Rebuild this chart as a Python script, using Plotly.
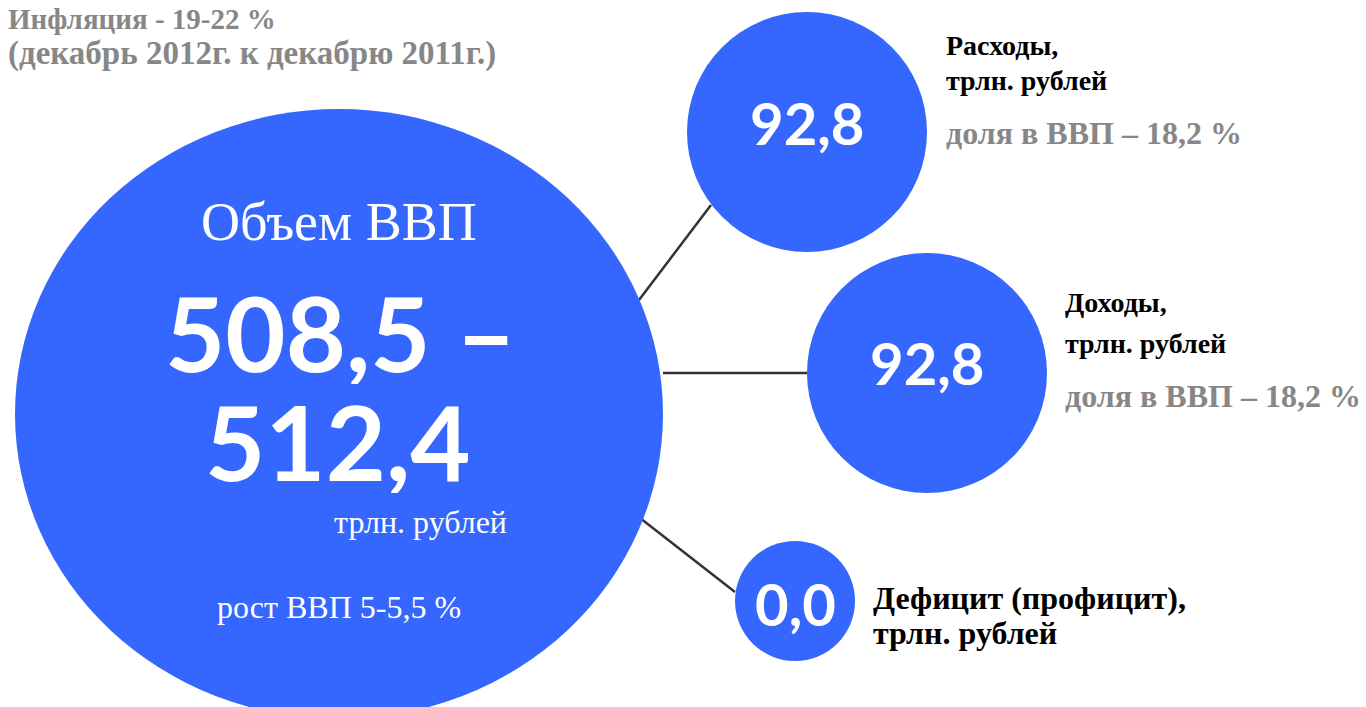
import plotly.graph_objects as go

# ---------------- data ----------------
gdp_title = "Объем ВВП"
gdp_range = [508.5, 512.4]
gdp_unit = "трлн. рублей"
gdp_growth = "рост ВВП 5-5,5 %"
inflation_lines = ["Инфляция - 19-22 %", "(декабрь 2012г. к декабрю 2011г.)"]
item_names = ["Расходы,", "Доходы,", "Дефицит (профицит),"]
item_values = [92.8, 92.8, 0.0]
item_shares = [18.2, 18.2, None]
unit = "трлн. рублей"

# ---------------- layout geometry (page pixels) ----------------
W, H = 1366, 707
BLUE = "#3567FE"
GRAY = "#878787"
big = dict(cx=339, cy=414, rx=324, ry=305)
small_c = [(807, 132), (927, 373), (795, 601)]
small_r = [120, 120, 60]
value_y = [122, 362, 603]
links = [((639, 300), (711, 205)), ((663, 373), (807, 373)), ((640, 518), (735, 592))]
label_x = [945, 1064, 872]
label_y = [[45, 80, 133], [302, 343, 396], [598, 633, None]]
label_size = [28, 28, 32]

SERIF = "Liberation Serif, Times New Roman, serif"
SANS = "Lato, Open Sans, sans-serif"


def fmt(v):
    return f"{v:.1f}".replace(".", ",")


shapes = []
annotations = []

# connecting lines
for (x0, y0), (x1, y1) in links:
    shapes.append(dict(type="line", xref="x", yref="y", x0=x0, y0=y0, x1=x1, y1=y1,
                       line=dict(color="#333333", width=2.5), layer="below"))

# big ellipse
shapes.append(dict(type="circle", xref="x", yref="y",
                   x0=big["cx"] - big["rx"], x1=big["cx"] + big["rx"],
                   y0=big["cy"] - big["ry"], y1=big["cy"] + big["ry"],
                   fillcolor=BLUE, line=dict(width=0), layer="below"))

# small circles
for (cx, cy), r, v, vy in zip(small_c, small_r, item_values, value_y):
    shapes.append(dict(type="circle", xref="x", yref="y",
                       x0=cx - r, x1=cx + r, y0=cy - r, y1=cy + r,
                       fillcolor=BLUE, line=dict(width=0), layer="below"))
    annotations.append(dict(x=cx, y=vy, xref="x", yref="y", text=fmt(v),
                            showarrow=False, xanchor="center", yanchor="middle",
                            font=dict(family=SANS, size=58, color="white", weight="bold")))


def txt(x, y, s, size, color, family=SERIF, bold=False, xanchor="left", height=None):
    a = dict(x=x, y=y, xref="x", yref="y", text=s, showarrow=False,
             xanchor=xanchor, yanchor="middle", borderpad=0,
             font=dict(family=family, size=size, color=color,
                       weight="bold" if bold else "normal"))
    if height is not None:
        a["height"] = height
    annotations.append(a)


# big circle texts
txt(big["cx"], 222, gdp_title, 54, "white", xanchor="center")
txt(big["cx"] + 1, 331, f"{fmt(gdp_range[0])} –", 104, "white", family=SANS, bold=True,
    xanchor="center", height=106)
txt(big["cx"] - 1, 440, fmt(gdp_range[1]), 104, "white", family=SANS, bold=True,
    xanchor="center", height=106)
txt(508, 522, gdp_unit, 32, "white", xanchor="right")
txt(big["cx"], 607, gdp_growth, 32, "white", xanchor="center")

# inflation
txt(7, 19, inflation_lines[0], 29, GRAY, bold=True)
txt(7, 53, inflation_lines[1], 33, GRAY, bold=True)

# right-hand labels
for name, share, lx, ly, fs in zip(item_names, item_shares, label_x, label_y, label_size):
    txt(lx, ly[0], name, fs, "black", bold=True)
    txt(lx, ly[1], unit, fs, "black", bold=True)
    if share is not None:
        txt(lx, ly[2], f"доля в ВВП – {fmt(share)} %", 32, GRAY, bold=True)

fig = go.Figure()
fig.update_layout(
    width=W, height=H,
    margin=dict(l=0, r=0, t=0, b=0),
    paper_bgcolor="white", plot_bgcolor="white",
    xaxis=dict(range=[0, W], visible=False, fixedrange=True),
    yaxis=dict(range=[H, 0], visible=False, fixedrange=True),
    shapes=shapes, annotations=annotations, showlegend=False,
)
fig.write_html(
    "out.html",
    config={"displayModeBar": False},
    post_script="document.body.style.margin='0';document.body.style.overflow='hidden';",
)
